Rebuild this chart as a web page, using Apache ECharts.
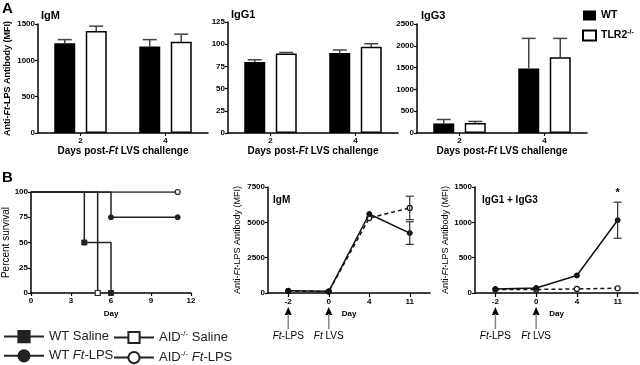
<!DOCTYPE html>
<html><head><meta charset="utf-8">
<script src="https://cdn.jsdelivr.net/npm/echarts@6/dist/echarts.min.js"></script>
<style>html,body{margin:0;padding:0;background:#fff}#c{width:640px;height:365px}</style>
</head><body><div id="c"></div>
<script>
// ---------- DATA ----------
const daysA = ['2', '4'];
const igmWT = [1235, 1190];   const igmWTErr = [50, 95];
const igmKO = [1405, 1255];   const igmKOErr = [65, 105];
const igg1WT = [80, 90];      const igg1WTErr = [2.5, 3.5];
const igg1KO = [89.5, 97];    const igg1KOErr = [1.2, 3.5];
const igg3WT = [220, 1480];   const igg3WTErr = [90, 690];
const igg3KO = [230, 1740];   const igg3KOErr = [35, 430];

const survWTSaline = [[0, 100], [4, 50], [6, 0]];
const survWTLPS = [[0, 100], [6, 75], [11, 75]];
const survAIDSaline = [[0, 100], [5, 0]];
const survAIDLPS = [[0, 100], [11, 100]];

const daysB = ['-2', '0', '4', '11'];
const igmLineWT = [160, 120, 5590, 4240];   const igmLineWTErr = [null, null, null, 800];
const igmLineAID = [140, 100, 5300, 6020];  const igmLineAIDErr = [null, null, null, 830];
const iggLineWT = [57, 71, 248, 1030];      const iggLineWTErr = [null, null, null, 255];
const iggLineAID = [48, 50, 57, 67];        const iggLineAIDErr = [null, null, null, null];
const iggStars = ['', '', '', '*'];

const arrowDays = ['-2', '0'];
const arrowLabels = ['{i|Ft}-LPS', '{i|Ft} LVS'];

// ---------- CHART ----------
const FONT = '"Liberation Sans", Arial, sans-serif';
const chart = echarts.init(document.getElementById('c'), null, {renderer: 'canvas'});

const grids = [
  {left: 38, top: 24, width: 170, height: 109},
  {left: 228, top: 22, width: 170, height: 111},
  {left: 417, top: 24, width: 170, height: 109},
  {left: 31, top: 192, width: 160, height: 101},
  {left: 268, top: 187, width: 162, height: 106},
  {left: 475, top: 187, width: 163, height: 106}
].map(g => Object.assign({outerBoundsMode: 'none', containLabel: false}, g));

const axLine = {show: true, onZero: false, lineStyle: {color: '#000', width: 1.5}};
const axTick = {show: true, length: 3, lineStyle: {color: '#000', width: 1.2}};
const tickLbl = {fontSize: 8, fontWeight: 'bold', color: '#000', fontFamily: FONT, margin: 3,
                 formatter: v => String(v)};

function rich(size, weight) {
  return {
    n: {fontSize: size, fontWeight: weight, fontFamily: FONT, color: '#000'},
    i: {fontSize: size, fontWeight: weight, fontFamily: FONT, color: '#000', fontStyle: 'italic'}
  };
}
const yNameA = '{n|Anti-}{i|Ft}{n|-LPS Antibody (MFI)}';
const xNameA = '{n|Days post-}{i|Ft}{n| LVS challenge}';

function yAxisVal(gi, max, interval, extra) {
  return Object.assign({
    gridIndex: gi, type: 'value', min: 0, max: max, interval: interval,
    axisLine: axLine, axisTick: axTick, axisLabel: tickLbl, splitLine: {show: false}
  }, extra || {});
}
function xAxisCatA(gi) {
  return {
    gridIndex: gi, type: 'category', data: daysA, boundaryGap: true,
    axisLine: axLine, axisTick: Object.assign({alignWithLabel: true}, axTick),
    axisLabel: Object.assign({}, tickLbl, {margin: 4}),
    name: xNameA, nameLocation: 'middle', nameGap: 13,
    nameTextStyle: {rich: rich(10, 'bold')}
  };
}
function xAxisCatB(gi) {
  return {
    gridIndex: gi, type: 'category', data: daysB, boundaryGap: true,
    axisLine: axLine, axisTick: Object.assign({alignWithLabel: true}, axTick, {length: 4}),
    axisLabel: Object.assign({}, tickLbl, {margin: 5}),
    name: 'Day', nameLocation: 'middle', nameGap: 17,
    nameTextStyle: {fontSize: 8, fontWeight: 'bold', fontFamily: FONT, color: '#000'}
  };
}

const xAxes = [
  xAxisCatA(0), xAxisCatA(1), xAxisCatA(2),
  {gridIndex: 3, type: 'value', min: 0, max: 12, interval: 3,
   axisLine: axLine, axisTick: axTick, axisLabel: Object.assign({}, tickLbl, {margin: 4}),
   splitLine: {show: false},
   name: 'Day', nameLocation: 'middle', nameGap: 17,
   nameTextStyle: {fontSize: 8, fontWeight: 'bold', fontFamily: FONT, color: '#000'}},
  xAxisCatB(4), xAxisCatB(5)
];
const yAxes = [
  yAxisVal(0, 1500, 500, {name: yNameA, nameLocation: 'middle', nameGap: 26, nameTextStyle: {rich: rich(9, 'bold')}}),
  yAxisVal(1, 125, 25),
  yAxisVal(2, 2500, 500),
  yAxisVal(3, 100, 25, {name: 'Percent survival', nameLocation: 'middle', nameGap: 19,
    nameTextStyle: {fontSize: 10, fontFamily: FONT, color: '#000'}}),
  yAxisVal(4, 7500, 2500, {name: yNameA, nameLocation: 'middle', nameGap: 26, nameTextStyle: {rich: rich(9, 'normal')}}),
  yAxisVal(5, 1500, 500, {name: yNameA, nameLocation: 'middle', nameGap: 24, nameTextStyle: {rich: rich(9, 'normal')}})
];

const BAR_OFF = 15.75;
function barSeries(name, data, gi, filled) {
  return {
    type: 'bar', name: name, xAxisIndex: gi, yAxisIndex: gi, data: data,
    barWidth: 21, barGap: '50%', silent: true, z: 2,
    itemStyle: filled ? {color: '#000'} : {color: '#fff', borderColor: '#000', borderWidth: 1.5}
  };
}
function barErr(vals, errs, gi, offset) {
  return {
    type: 'custom', xAxisIndex: gi, yAxisIndex: gi, silent: true, z: 3,
    data: vals.map((v, i) => [daysA[i], v, errs[i]]),
    renderItem: function (params, api) {
      const c = api.value(0), v = api.value(1), e = api.value(2);
      const p0 = api.coord([c, v]), p1 = api.coord([c, v + e]);
      const x = p0[0] + offset;
      return {type: 'group', children: [
        {type: 'line', shape: {x1: x, y1: p0[1], x2: x, y2: p1[1]}, style: {stroke: '#444', lineWidth: 1.5}},
        {type: 'line', shape: {x1: x - 7, y1: p1[1], x2: x + 7, y2: p1[1]}, style: {stroke: '#444', lineWidth: 1.5}}
      ]};
    }
  };
}

function survData(arr) {
  return arr.map((p, i) => i === 0 ? {value: p, symbol: 'none'} : p);
}
function survSeries(name, arr, symbol, open) {
  return {
    type: 'line', name: name, xAxisIndex: 3, yAxisIndex: 3, step: 'end',
    data: survData(arr), symbol: symbol, symbolSize: 5, showAllSymbol: true,
    lineStyle: {color: '#222', width: 1.5},
    itemStyle: open ? {color: '#fff', borderColor: '#222', borderWidth: 1.2} : {color: '#222', borderColor: '#222', borderWidth: 1},
    silent: true, z: open ? 3 : 4
  };
}

function lineSeries(name, vals, gi, dashed) {
  return {
    type: 'line', name: name, xAxisIndex: gi, yAxisIndex: gi, data: vals,
    symbol: 'circle', symbolSize: 5, showAllSymbol: true,
    lineStyle: {color: '#111', width: 1.5, type: dashed ? [4, 3] : 'solid'},
    itemStyle: dashed ? {color: '#fff', borderColor: '#111', borderWidth: 1.2} : {color: '#111', borderColor: '#111', borderWidth: 1},
    silent: true, z: dashed ? 3 : 4
  };
}
function lineErr(vals, errs, gi, stars) {
  const data = [];
  vals.forEach((v, i) => { if (errs[i] != null) data.push([daysB[i], v, errs[i], i]); });
  return {
    type: 'custom', xAxisIndex: gi, yAxisIndex: gi, silent: true, z: 5, data: data,
    renderItem: function (params, api) {
      const c = api.value(0), v = api.value(1), e = api.value(2), idx = api.value(3);
      const pt = api.coord([c, v + e]), pb = api.coord([c, v - e]);
      const x = pt[0];
      const ch = [
        {type: 'line', shape: {x1: x, y1: pt[1], x2: x, y2: pb[1]}, style: {stroke: '#333', lineWidth: 1.2}},
        {type: 'line', shape: {x1: x - 4, y1: pt[1], x2: x + 4, y2: pt[1]}, style: {stroke: '#333', lineWidth: 1.2}},
        {type: 'line', shape: {x1: x - 4, y1: pb[1], x2: x + 4, y2: pb[1]}, style: {stroke: '#333', lineWidth: 1.2}}
      ];
      if (stars && stars[idx]) {
        ch.push({type: 'text', x: x, y: pt[1] - 9, style: {text: stars[idx], align: 'center', verticalAlign: 'middle',
          fontSize: 11, fontWeight: 'bold', fontFamily: FONT, fill: '#000'}});
      }
      return {type: 'group', children: ch};
    }
  };
}
function arrowSeries(gi) {
  return {
    type: 'custom', xAxisIndex: gi, yAxisIndex: gi, silent: true, clip: false, z: 5,
    data: arrowDays.map(d => [d, 0]),
    renderItem: function (params, api) {
      const p = api.coord([api.value(0), 0]);
      const x = p[0], y = p[1];
      return {type: 'group', children: [
        {type: 'polygon', shape: {points: [[x, y + 14], [x - 3.5, y + 22], [x + 3.5, y + 22]]}, style: {fill: '#000'}},
        {type: 'line', shape: {x1: x, y1: y + 21, x2: x, y2: y + 36}, style: {stroke: '#888', lineWidth: 1.5}},
        {type: 'text', x: x, y: y + 43, style: {text: arrowLabels[params.dataIndex], align: 'center', verticalAlign: 'middle',
          fontSize: 10, fontFamily: FONT, fill: '#000',
          rich: {i: {fontStyle: 'italic', fontSize: 10, fontFamily: FONT, fill: '#000', color: '#000'}}}}
      ]};
    }
  };
}

const series = [
  barSeries('WT', igmWT, 0, true), barSeries('TLR2', igmKO, 0, false),
  barSeries('WT', igg1WT, 1, true), barSeries('TLR2', igg1KO, 1, false),
  barSeries('WT', igg3WT, 2, true), barSeries('TLR2', igg3KO, 2, false),
  barErr(igmWT, igmWTErr, 0, -BAR_OFF), barErr(igmKO, igmKOErr, 0, BAR_OFF),
  barErr(igg1WT, igg1WTErr, 1, -BAR_OFF), barErr(igg1KO, igg1KOErr, 1, BAR_OFF),
  barErr(igg3WT, igg3WTErr, 2, -BAR_OFF), barErr(igg3KO, igg3KOErr, 2, BAR_OFF),
  survSeries('AID Ft-LPS', survAIDLPS, 'circle', true),
  survSeries('AID Saline', survAIDSaline, 'rect', true),
  survSeries('WT Ft-LPS', survWTLPS, 'circle', false),
  survSeries('WT Saline', survWTSaline, 'rect', false),
  lineSeries('IgM AID', igmLineAID, 4, true), lineSeries('IgM WT', igmLineWT, 4, false),
  lineSeries('IgG AID', iggLineAID, 5, true), lineSeries('IgG WT', iggLineWT, 5, false),
  lineErr(igmLineWT, igmLineWTErr, 4), lineErr(igmLineAID, igmLineAIDErr, 4),
  lineErr(iggLineWT, iggLineWTErr, 5, iggStars),
  arrowSeries(4), arrowSeries(5)
];

const panelTitle = (text, left, top, size) => ({
  text: text, left: left, top: top, padding: 0,
  textStyle: {fontSize: size, fontWeight: 'bold', fontFamily: FONT, color: '#000'}
});

const legendTextRich = {
  n: {fontSize: 13, fontFamily: FONT, color: '#222'},
  i: {fontSize: 13, fontFamily: FONT, color: '#222', fontStyle: 'italic'},
  s: {fontSize: 8, fontFamily: FONT, color: '#222', verticalAlign: 'top', padding: [0, 0, 7, 0]}
};
const legendFmt = {
  'WT Saline': '{n|WT Saline}',
  'WT Ft-LPS': '{n|WT }{i|Ft}{n|-LPS}',
  'AID Saline': '{n|AID}{s|-/-}{n| Saline}',
  'AID Ft-LPS': '{n|AID}{s|-/-}{n| }{i|Ft}{n|-LPS}'
};

chart.setOption({
  animation: false,
  backgroundColor: '#fff',
  title: [
    panelTitle('A', 2, 1, 15),
    panelTitle('B', 2, 170, 15),
    panelTitle('IgM', 41, 10, 11),
    panelTitle('IgG1', 231, 9, 11),
    panelTitle('IgG3', 421, 10, 11),
    panelTitle('IgM', 273, 195, 10),
    panelTitle('IgG1 + IgG3', 482, 195, 10)
  ],
  legend: [
    {data: ['WT', 'TLR2'], orient: 'vertical', left: 582, top: 10, icon: 'rect',
     itemWidth: 13, itemHeight: 10, itemGap: 8, selectedMode: false, padding: 0,
     formatter: n => n === 'TLR2' ? '{b|TLR2}{s|-/-}' : '{b|WT}',
     textStyle: {rich: {
       b: {fontSize: 10.5, fontWeight: 'bold', fontFamily: FONT, color: '#000'},
       s: {fontSize: 7, fontWeight: 'bold', fontFamily: FONT, color: '#000', verticalAlign: 'top', padding: [0, 0, 6, 0]}
     }}},
    {data: ['WT Saline', 'WT Ft-LPS'], orient: 'vertical', left: 3, top: 330,
     itemWidth: 40, itemHeight: 14, itemGap: 6, selectedMode: false, padding: 0,
     formatter: n => legendFmt[n], textStyle: {rich: legendTextRich}},
    {data: ['AID Saline', 'AID Ft-LPS'], orient: 'vertical', left: 113, top: 330,
     itemWidth: 40, itemHeight: 14, itemGap: 6, selectedMode: false, padding: 0,
     formatter: n => legendFmt[n], textStyle: {rich: legendTextRich}}
  ],
  grid: grids,
  xAxis: xAxes,
  yAxis: yAxes,
  series: series
});
</script></body></html>
